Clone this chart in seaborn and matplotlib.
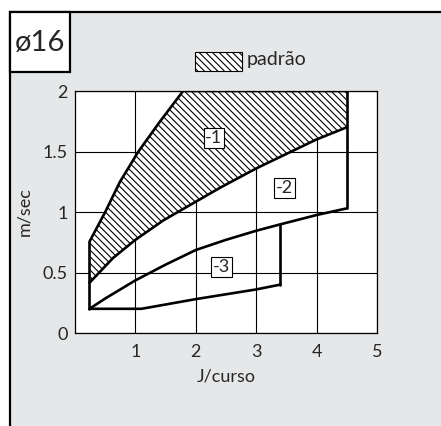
import numpy as np
import pandas as pd
import matplotlib
matplotlib.use('Agg')
import matplotlib.pyplot as plt
import matplotlib.patches as mpatches
import seaborn as sns

# ── Data ──────────────────────────────────────────────────────────────
# upper edge of the "padrão" (-1) band
top_x = [0.24, 0.50, 0.745, 1.05, 1.41, 1.79, 4.5]
top_y = [0.755, 1.00, 1.25, 1.50, 1.75, 2.00, 2.0]
# boundary between -1 and -2
mid1_x = [0.24, 0.63, 1.0, 1.46, 2.0, 2.4, 3.0, 3.5, 4.0, 4.5]
mid1_y = [0.415, 0.62, 0.77, 0.93, 1.085, 1.20, 1.36, 1.48, 1.60, 1.70]
# boundary between -2 and -3
mid2_x = [0.24, 0.5, 1.0, 1.5, 2.0, 2.5, 3.0, 3.4, 4.0, 4.5]
mid2_y = [0.20, 0.285, 0.435, 0.565, 0.686, 0.77, 0.845, 0.898, 0.975, 1.03]
# lower edge of -3
bot_x = [0.24, 1.1, 2.0, 3.0, 3.4]
bot_y = [0.20, 0.20, 0.28, 0.36, 0.40]
# vertical closing edges: (x, y_from, y_to)
edges = [(0.24, 0.2, 0.755), (3.4, 0.40, 0.898), (4.5, 1.03, 2.0)]

labels = ['-1', '-2', '-3']
label_x = [2.30, 3.47, 2.43]
label_y = [1.61, 1.20, 0.545]

x_ticks = [1, 2, 3, 4, 5]
y_ticks = [0, 0.5, 1, 1.5, 2]
y_ticklabels = ['0', '0.5', '1', '1.5', '2']

HATCH = '\\' * 5

# ── Style ─────────────────────────────────────────────────────────────
sns.set_style('white')
plt.rcParams['font.family'] = ['Lato', 'DejaVu Sans']
plt.rcParams['hatch.linewidth'] = 0.8
BG = '#e6e7e8'

fig = plt.figure(figsize=(4.41, 4.26), dpi=100)
fig.patch.set_facecolor('white')

# outer grey panel with black frame (left + top)
fig.patches.append(mpatches.Rectangle((9.5 / 441, -0.1), 1.2, 0.1 + (426 - 11.5) / 426,
                                      transform=fig.transFigure, fc=BG, ec='black',
                                      lw=1.6, zorder=-2))
# bore size box
fig.patches.append(mpatches.Rectangle((9.5 / 441, (426 - 72) / 426), 60.5 / 441, 60.5 / 426,
                                      transform=fig.transFigure, fc='white', ec='black',
                                      lw=1.6, zorder=1))
fig.text(40 / 441, 1 - 43 / 426, 'ø16', ha='center', va='center', fontsize=21)

# legend swatch
fig.patches.append(mpatches.Rectangle((195 / 441, (426 - 70.7) / 426), 46.7 / 441, 18.4 / 426,
                                      transform=fig.transFigure, fc='white', ec='black',
                                      lw=0.8, hatch=HATCH, zorder=1))
fig.text(247 / 441, 1 - 60 / 426, 'padrão', ha='left', va='center', fontsize=14)

ax = fig.add_axes([75 / 441, (426 - 333) / 426, 302 / 441, 242 / 426])
ax.set_facecolor('white')

# hatched band (-1)
poly_x = top_x + mid1_x[::-1]
poly_y = top_y + mid1_y[::-1]
ax.fill(poly_x, poly_y, facecolor='white', edgecolor='black', hatch=HATCH,
        lw=0, zorder=2)

# boundary lines
lines = pd.concat([
    pd.DataFrame({'x': top_x, 'y': top_y, 'seg': 'top'}),
    pd.DataFrame({'x': mid1_x, 'y': mid1_y, 'seg': 'mid1'}),
    pd.DataFrame({'x': mid2_x, 'y': mid2_y, 'seg': 'mid2'}),
    pd.DataFrame({'x': bot_x, 'y': bot_y, 'seg': 'bot'}),
] + [pd.DataFrame({'x': [ex, ex], 'y': [y0, y1], 'seg': f'v{i}'})
     for i, (ex, y0, y1) in enumerate(edges)], ignore_index=True)
sns.lineplot(data=lines, x='x', y='y', units='seg', estimator=None, sort=False,
             color='black', lw=1.9, ax=ax, zorder=4)

for t, lx, ly in zip(labels, label_x, label_y):
    ax.text(lx, ly, t, ha='center', va='center', fontsize=13, zorder=5,
            bbox=dict(boxstyle='square,pad=0.1', fc='white', ec='black', lw=0.8))

ax.set_xlim(0, 5)
ax.set_ylim(0, 2)
ax.set_xticks(x_ticks)
ax.set_yticks(y_ticks)
ax.set_yticklabels(y_ticklabels)
ax.grid(True, color='black', lw=0.8, zorder=1)
ax.set_axisbelow(True)
for s in ax.spines.values():
    s.set_color('black')
    s.set_linewidth(0.9)
ax.tick_params(length=0, labelsize=13)
ax.tick_params(axis='x', pad=8)
ax.tick_params(axis='y', pad=5)
ax.set_xlabel('J/curso', fontsize=13, labelpad=6)
ax.set_ylabel('m/sec', fontsize=13, labelpad=8)

plt.savefig('out.png', dpi=100)
plt.close()
